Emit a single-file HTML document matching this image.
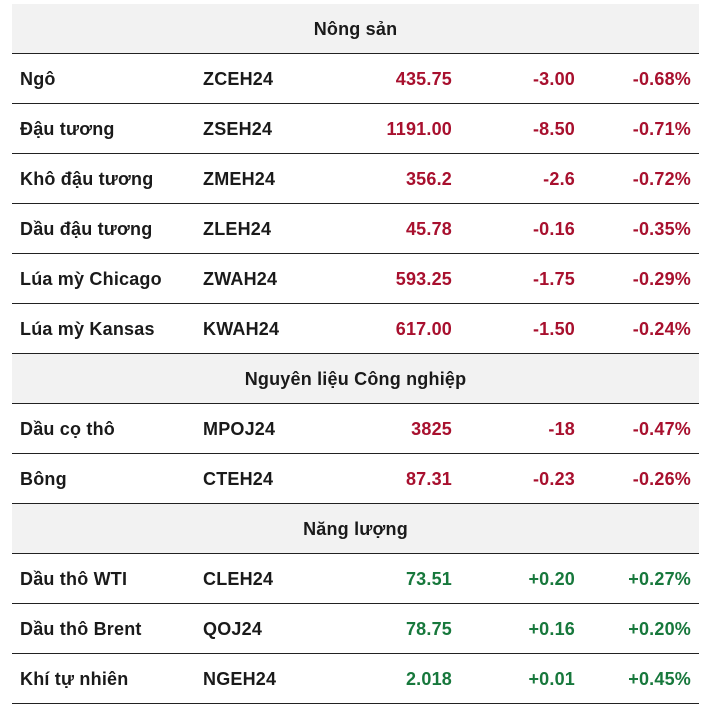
<!DOCTYPE html>
<html><head><meta charset="utf-8"><style>
body{margin:0;width:719px;height:701px;background:#fff;overflow:hidden;font-family:"Liberation Sans","DejaVu Sans",sans-serif;font-weight:bold;font-size:18px;letter-spacing:0.2px;color:#1a1a1a}
.r{position:absolute;left:12px;width:687px;height:49px;border-bottom:1.5px solid #222}
.h{background:#f2f2f2;text-align:center;line-height:51px}
.c{position:absolute;top:0;line-height:51px;white-space:nowrap}
.n{left:8px}.k{left:191px}
.p{right:247px;text-align:right}.d{right:124px;text-align:right}.q{right:8px;text-align:right}
.red{color:#a8102e}.grn{color:#17783c}
</style></head><body>
<div id="t"></div>
<script>
const sections=["Nông sản","Nguyên liệu Công nghiệp","Năng lượng"];
const names=[["Ngô","Đậu tương","Khô đậu tương","Dầu đậu tương","Lúa mỳ Chicago","Lúa mỳ Kansas"],["Dầu cọ thô","Bông"],["Dầu thô WTI","Dầu thô Brent","Khí tự nhiên"]];
const codes=[["ZCEH24","ZSEH24","ZMEH24","ZLEH24","ZWAH24","KWAH24"],["MPOJ24","CTEH24"],["CLEH24","QOJ24","NGEH24"]];
const prices=[["435.75","1191.00","356.2","45.78","593.25","617.00"],["3825","87.31"],["73.51","78.75","2.018"]];
const changes=[["-3.00","-8.50","-2.6","-0.16","-1.75","-1.50"],["-18","-0.23"],["+0.20","+0.16","+0.01"]];
const pcts=[["-0.68%","-0.71%","-0.72%","-0.35%","-0.29%","-0.24%"],["-0.47%","-0.26%"],["+0.27%","+0.20%","+0.45%"]];
const t=document.getElementById('t');
let y=4;
sections.forEach((s,si)=>{
  const h=document.createElement('div');
  h.className='r h';h.style.top=y+'px';h.textContent=s;
  
  
  t.appendChild(h);y+=50;
  names[si].forEach((n,i)=>{
    const r=document.createElement('div');
    r.className='r';r.style.top=y+'px';
    
    
    const col=changes[si][i].startsWith('+')?'grn':'red';
    const cells=[['n',n,'',"commodity-name"],['k',codes[si][i],'',"contract-code"],['p',prices[si][i],col,"price"],['d',changes[si][i],col,"change"],['q',pcts[si][i],col,"change-percent"]];
    cells.forEach(c=>{
      const e=document.createElement('span');
      e.className='c '+c[0]+' '+c[2];e.textContent=c[1];
      
      
      r.appendChild(e);
    });
    t.appendChild(r);y+=50;
  });
});
</script>
</body></html>
